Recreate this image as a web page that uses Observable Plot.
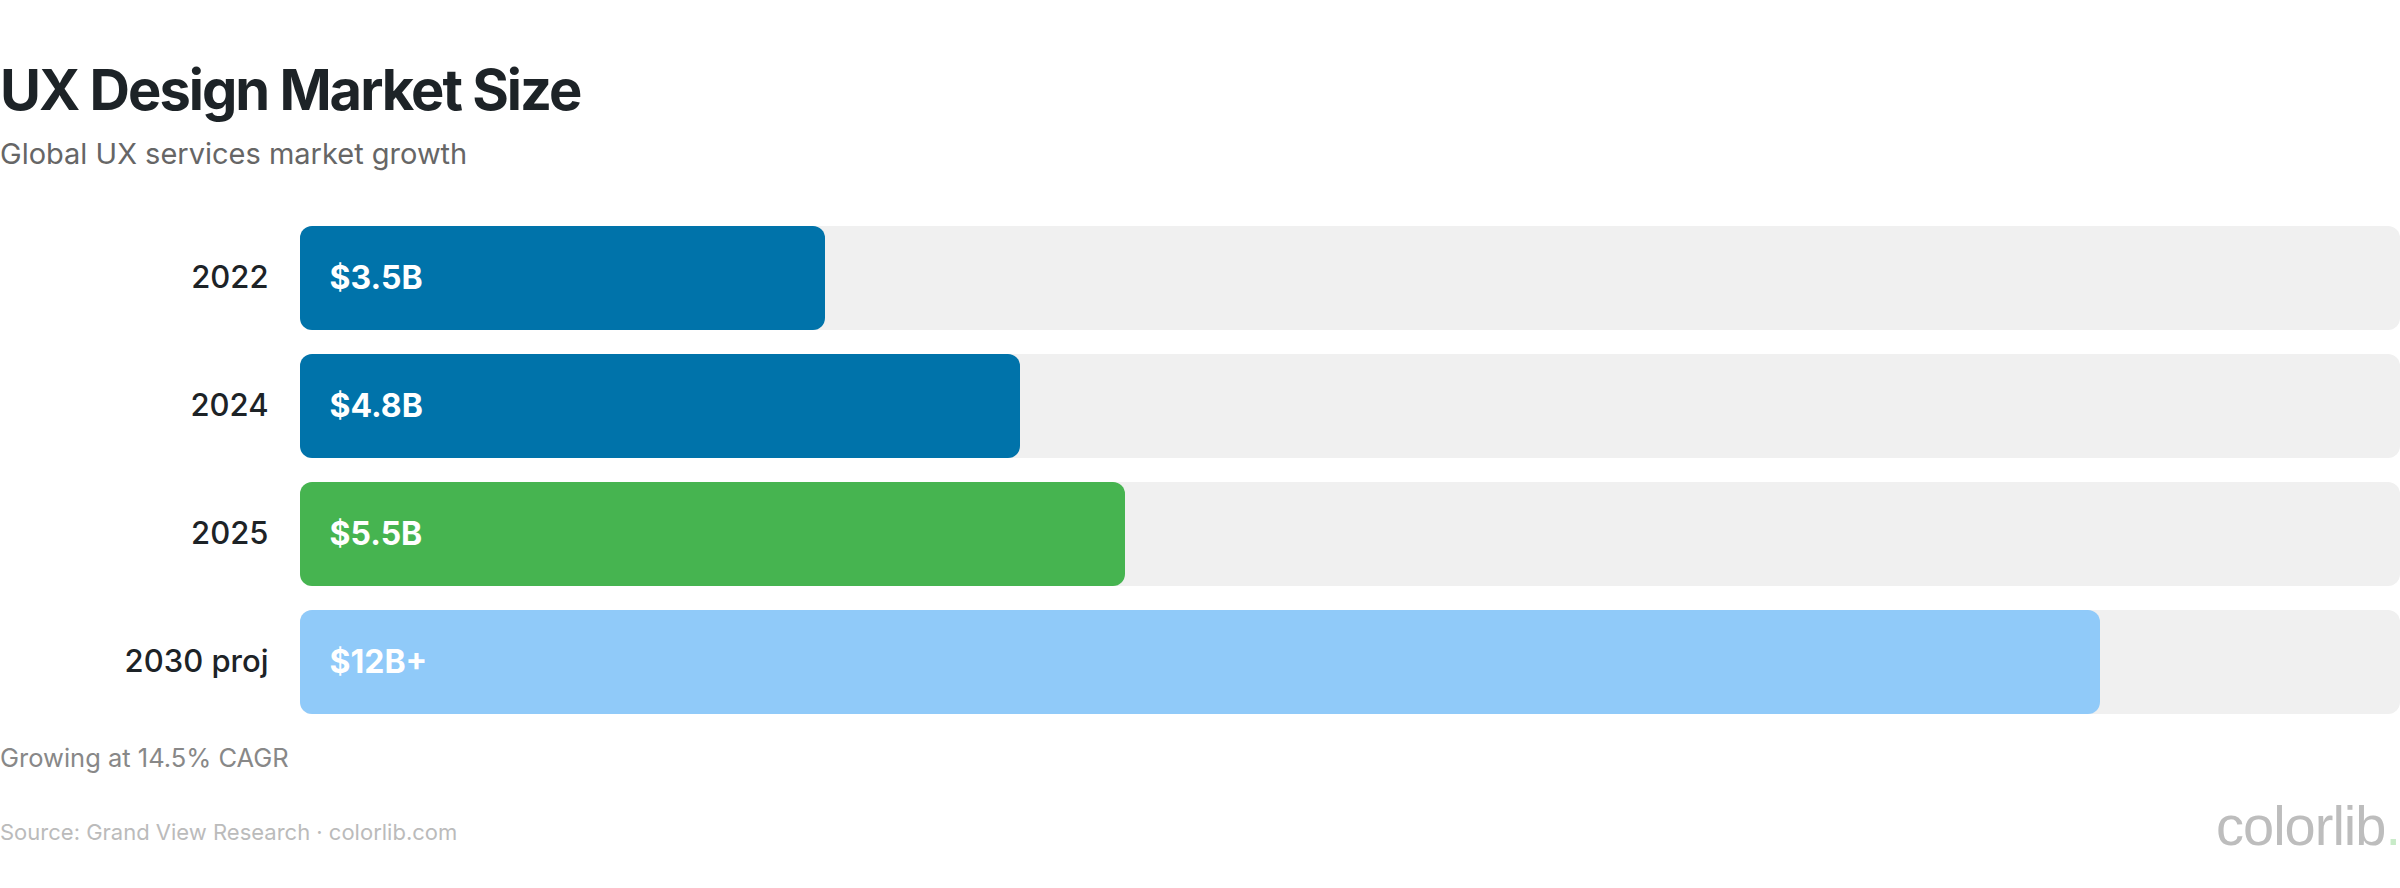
<!DOCTYPE html>
<html>
<head>
<meta charset="utf-8">
<script src="https://cdn.jsdelivr.net/npm/d3@7"></script>
<script src="https://cdn.jsdelivr.net/npm/@observablehq/plot@0.6"></script>
<style>
  html, body { margin: 0; padding: 0; background: #fff; }
  body { width: 2400px; height: 888px; position: relative; overflow: hidden; font-family: Inter, "Noto Sans", sans-serif; }
  .t { position: absolute; left: 0; line-height: 1; white-space: nowrap; }
  #title { top: 62px; font-size: 56px; font-weight: 700; color: #1d2327; letter-spacing: -2px; }
  #subtitle { top: 139px; font-size: 29px; color: #666666; }
  #note { top: 745px; font-size: 25.5px; color: #888888; }
  #source { top: 821px; font-size: 22px; color: #bbbbbb; }
  #logo { top: 798px; left: auto; right: 0; font-family: "Liberation Sans", Arial, sans-serif; font-size: 56px; color: #bdbdbd; letter-spacing: -1px; }
  #logo span { color: #c8ebc8; }
  #chart { position: absolute; left: 0; top: 200px; }
</style>
</head>
<body>
<div class="t" id="title">UX Design Market Size</div>
<div class="t" id="subtitle">Global UX services market growth</div>
<div id="chart"></div>
<div class="t" id="note">Growing at 14.5% CAGR</div>
<div class="t" id="source">Source: Grand View Research · colorlib.com</div>
<div class="t" id="logo">colorlib<span>.</span></div>
<script>
const years = ["2022", "2024", "2025", "2030 proj"];
const values = [3.5, 4.8, 5.5, 12];
const valueLabels = ["$3.5B", "$4.8B", "$5.5B", "$12B+"];
const barColors = ["#0073aa", "#0073aa", "#46b450", "#90caf9"];
const trackMax = 14;

const data = years.map((year, i) => ({year, value: values[i], label: valueLabels[i], color: barColors[i], max: trackMax}));

const chart = Plot.plot({
  width: 2400,
  height: 540,
  marginLeft: 300,
  marginRight: 0,
  marginTop: 26,
  marginBottom: 26,
  style: {fontFamily: "Inter, 'Noto Sans', sans-serif", background: "transparent"},
  x: {domain: [0, trackMax], axis: null},
  y: {domain: years, paddingInner: 0.1875, paddingOuter: 0, label: null},
  marks: [
    Plot.barX(data, {y: "year", x: "max", fill: "#f0f0f0", rx: 12}),
    Plot.barX(data, {y: "year", x: "value", fill: "color", rx: 12}),
    Plot.text(data, {y: "year", x: 0, text: "label", textAnchor: "start", dx: 29, fill: "white", fontSize: 32, fontWeight: 700}),
    Plot.axisY({tickSize: 0, tickPadding: 32, fontSize: 31, fontWeight: 500, color: "#1d2327", label: null})
  ]
});
document.getElementById("chart").appendChild(chart);
</script>
</body>
</html>
